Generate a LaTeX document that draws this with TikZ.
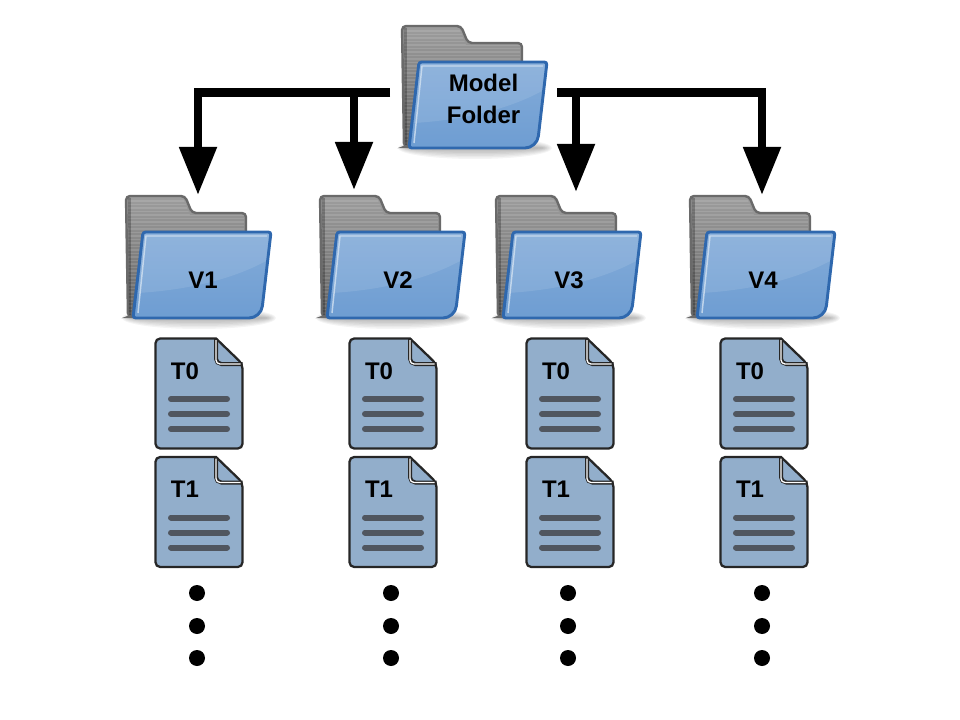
\documentclass[tikz,border=0pt]{standalone}
\usepackage{fontspec}
\setmainfont{Liberation Sans}
\usetikzlibrary{arrows.meta}
\definecolor{backgrey}{HTML}{8C8C8C}
\definecolor{backedge}{HTML}{6A6A6A}
\definecolor{frontblue}{HTML}{6E9DD2}
\definecolor{frontedge}{HTML}{2F68AE}
\definecolor{docblue}{HTML}{92AECB}
\definecolor{docbar}{HTML}{50565F}
\tikzset{
  flowline/.style={line width=6.2pt,-{Triangle[width=27pt,length=36pt]}},
  bigtext/.style={font=\fontsize{18}{24}\selectfont\bfseries,text=black,align=center,inner sep=0pt},
  folder/.pic={
    % shadow
    \foreach \g in {0,1.5,...,9}
      \fill[black,opacity=.045] (73,123) ellipse ({77-\g} and {11-\g});
    % back sheet
    \path[top color=backgrey!85!white,bottom color=backgrey!70!black,draw=backedge,line width=1.8pt,rounded corners=3pt]
      (0,1) -- (59,1) -- (66,18) -- (120,18) -- (120,40) -- (20,40) -- (6,122) -- (2,122) -- cycle;
    \begin{scope}
      \clip (2,3) -- (57,3) -- (64,20) -- (118,20) -- (118,38) -- (17,38) -- (5,120) -- (3,120) -- cycle;
      \foreach \s in {6,9.5,...,120}
        \draw[white,opacity=.12,line width=1.1pt] (0,\s) -- (122,\s);
      \fill[black,opacity=.25] (0,0) rectangle (5,125);
    \end{scope}
    % front flap
    \path[top color=frontblue!85!white,bottom color=frontblue,draw=frontedge,line width=2.2pt,rounded corners=2pt]
      (17,37) -- (145,37) [rounded corners=9pt] -- (135,123) [rounded corners=2pt] -- (7,123) -- cycle;
    \fill[white,opacity=.1] (18,39) -- (143,39) -- (140,66) .. controls (105,85) and (60,95) .. (12,98) -- cycle;
    \draw[white!70!frontblue,line width=1.1pt,opacity=.8] (12,118) -- (20,41) -- (141,41);
  },
  docsheet/.pic={
    \draw[fill=docblue,draw=black!85,line width=1.7pt]
      (61,0.5) [rounded corners=3.5pt] -- (0.5,0.5) -- (0.5,110.5) -- (87.5,110.5) -- (87.5,26) [sharp corners] -- cycle;
    \draw[black!85,line width=3pt,rounded corners=4pt] (61,0.5) -- (61,26) -- (87.5,26);
    \draw[white,line width=1pt,rounded corners=3pt] (61,2) -- (61,26) -- (85.5,26);
    \foreach \b in {61,76,91}
      \draw[docbar,line width=4.5pt,line cap=round] (16,\b) -- (72,\b);
  }
}
\begin{document}
\begin{tikzpicture}[x=0.75pt,y=-0.75pt]
  \useasboundingbox (0,0) rectangle (960,720);
  % top folder
  \pic at (402,25) {folder};
  \node[bigtext] (model) at (483.5,99) {Model\\Folder};
  \coordinate (stubl) at (390,92.5);
  \coordinate (stubr) at (557,92.5);
  % one column per version
  \foreach \v/\fx/\lx/\dx/\cx/\tip in {1/126/203/155/197/195,2/320/398/349/391/190,3/496/569/526/568/192,4/690/763/720/762/195}{
    \pic at (\fx,195) {folder};
    \node[bigtext] (v\v) at (\lx,280) {V\v};
    \pic at (\dx,338) {docsheet};
    \node[bigtext] (t0v\v) at (\dx+30,371) {T0};
    \pic at (\dx,456.5) {docsheet};
    \node[bigtext] (t1v\v) at (\dx+30,489) {T1};
    \foreach \d/\dy in {a/593,b/626,c/658}
      \fill (\cx,\dy) circle (6pt);
  }
  \coordinate (tip1) at (198,195);
  \coordinate (tip2) at (354,190);
  \coordinate (tip3) at (576,192);
  \coordinate (tip4) at (762,195);
  % arrows
  \draw[flowline] (stubl) -| (tip1);
  \draw[flowline] (stubl -| tip2) -- (tip2);
  \draw[flowline] (stubr) -| (tip4);
  \draw[flowline] (stubr -| tip3) -- (tip3);
\end{tikzpicture}
\end{document}
